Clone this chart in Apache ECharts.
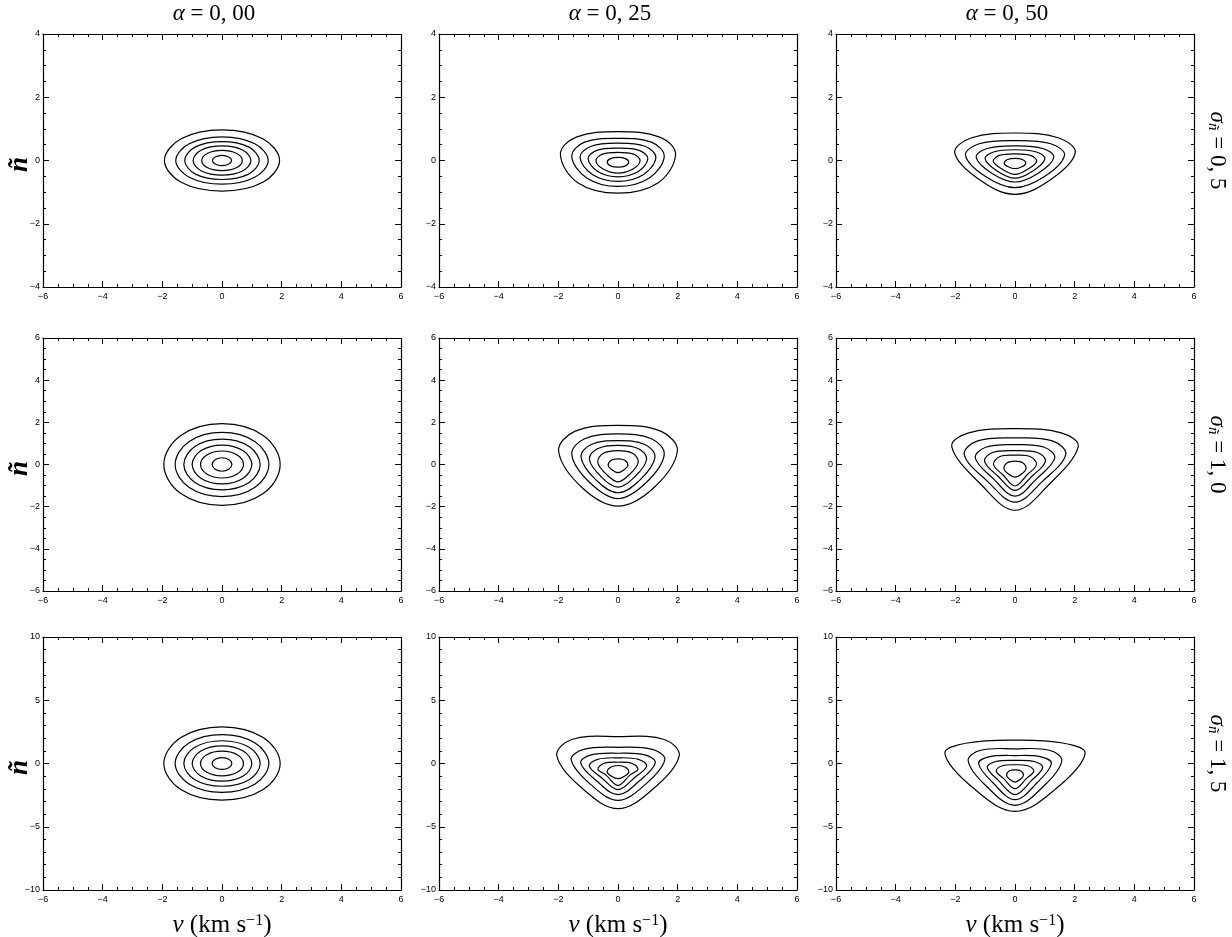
<!DOCTYPE html>
<html>
<head>
<meta charset="utf-8">
<script src="https://cdn.jsdelivr.net/npm/echarts@6/dist/echarts.min.js"></script>
<style>
html,body{margin:0;padding:0;background:#fff;}
#chart{width:1232px;height:937px;}
</style>
</head>
<body>
<div id="chart"></div>
<script>
// ---------- data ----------
const columnAlphas = ['0, 00', '0, 25', '0, 50'];
const rowSigmas = ['0, 5', '1, 0', '1, 5'];
const xRange = [-6, 6];
const xTickStep = 2;
const yRanges = [[-4, 4], [-6, 6], [-10, 10]];
const yTickSteps = [2, 2, 5];
const yMinorSplits = [4, 4, 5];

// contours: each contour is a closed list of [v, n] points
// row 1 (sigma_n = 0.5)
const contoursS05A000 = [
  [[1.93,0],[1.37,0.69],[0,0.97],[-1.37,0.69],[-1.93,0],[-1.37,-0.69],[0,-0.97],[1.37,-0.69]],
  [[1.55,0],[1.10,0.53],[0,0.75],[-1.10,0.53],[-1.55,0],[-1.10,-0.53],[0,-0.75],[1.10,-0.53]],
  [[1.25,0],[0.89,0.43],[0,0.60],[-0.89,0.43],[-1.25,0],[-0.89,-0.43],[0,-0.60],[0.89,-0.43]],
  [[0.97,0],[0.69,0.33],[0,0.46],[-0.69,0.33],[-0.97,0],[-0.69,-0.33],[0,-0.46],[0.69,-0.33]],
  [[0.68,0],[0.48,0.23],[0,0.32],[-0.48,0.23],[-0.68,0],[-0.48,-0.23],[0,-0.32],[0.48,-0.23]],
  [[0.32,0],[0.23,0.11],[0,0.16],[-0.23,0.11],[-0.32,0],[-0.23,-0.11],[0,-0.16],[0.23,-0.11]]
];
const contoursS05A025 = [
  [[1.93,0.20],[1.40,0.74],[0,0.91],[-1.40,0.74],[-1.93,0.20],[-1.35,-0.70],[0,-1.03],[1.35,-0.70]],
  [[1.55,0.13],[1.12,0.58],[0,0.70],[-1.12,0.58],[-1.55,0.13],[-1.05,-0.55],[0,-0.82],[1.05,-0.55]],
  [[1.27,0.10],[0.90,0.45],[0,0.55],[-0.90,0.45],[-1.27,0.10],[-0.86,-0.44],[0,-0.66],[0.86,-0.44]],
  [[1.00,0.06],[0.71,0.32],[0,0.39],[-0.71,0.32],[-1.00,0.06],[-0.68,-0.35],[0,-0.52],[0.68,-0.35]],
  [[0.74,0.00],[0.52,0.20],[0,0.26],[-0.52,0.20],[-0.74,0.00],[-0.50,-0.27],[0,-0.40],[0.50,-0.27]],
  [[0.36,-0.05],[0.25,0.06],[0,0.10],[-0.25,0.06],[-0.36,-0.05],[-0.25,-0.17],[0,-0.21],[0.25,-0.17]]
];
const contoursS05A050 = [
  [[2.02,0.25],[1.45,0.72],[0,0.87],[-1.45,0.72],[-2.02,0.25],[-1.20,-0.60],[0,-1.07],[1.20,-0.60]],
  [[1.66,0.17],[1.20,0.53],[0,0.63],[-1.20,0.53],[-1.66,0.17],[-1.00,-0.50],[0,-0.86],[1.00,-0.50]],
  [[1.30,0.10],[0.93,0.38],[0,0.46],[-0.93,0.38],[-1.30,0.10],[-0.78,-0.40],[0,-0.68],[0.78,-0.40]],
  [[1.00,0.05],[0.72,0.27],[0,0.34],[-0.72,0.27],[-1.00,0.05],[-0.60,-0.33],[0,-0.56],[0.60,-0.33]],
  [[0.73,-0.02],[0.52,0.16],[0,0.21],[-0.52,0.16],[-0.73,-0.02],[-0.44,-0.27],[0,-0.44],[0.44,-0.27]],
  [[0.36,-0.09],[0.25,0.03],[0,0.07],[-0.25,0.03],[-0.36,-0.09],[-0.23,-0.20],[0,-0.26],[0.23,-0.20]]
];
// row 2 (sigma_n = 1.0)
const contoursS10A000 = [
  [[1.95,0],[1.38,1.38],[0,1.94],[-1.38,1.38],[-1.95,0],[-1.38,-1.38],[0,-1.94],[1.38,-1.38]],
  [[1.57,0],[1.11,1.08],[0,1.52],[-1.11,1.08],[-1.57,0],[-1.11,-1.08],[0,-1.52],[1.11,-1.08]],
  [[1.28,0],[0.91,0.85],[0,1.20],[-0.91,0.85],[-1.28,0],[-0.91,-0.85],[0,-1.20],[0.91,-0.85]],
  [[1.00,0],[0.71,0.65],[0,0.92],[-0.71,0.65],[-1.00,0],[-0.71,-0.65],[0,-0.92],[0.71,-0.65]],
  [[0.72,0],[0.51,0.45],[0,0.64],[-0.51,0.45],[-0.72,0],[-0.51,-0.45],[0,-0.64],[0.51,-0.45]],
  [[0.33,0],[0.23,0.23],[0,0.32],[-0.23,0.23],[-0.33,0],[-0.23,-0.23],[0,-0.32],[0.23,-0.23]]
];
const contoursS10A025 = [
  [[1.99,0.63],[1.45,1.57],[0,1.86],[-1.45,1.57],[-1.99,0.63],[-1.20,-1.10],[0,-1.97],[1.20,-1.10]],
  [[1.55,0.47],[1.12,1.22],[0,1.45],[-1.12,1.22],[-1.55,0.47],[-0.93,-0.88],[0,-1.62],[0.93,-0.88]],
  [[1.24,0.35],[0.90,0.95],[0,1.13],[-0.90,0.95],[-1.24,0.35],[-0.74,-0.73],[0,-1.34],[0.74,-0.73]],
  [[0.96,0.25],[0.69,0.75],[0,0.91],[-0.69,0.75],[-0.96,0.25],[-0.57,-0.57],[0,-1.07],[0.57,-0.57]],
  [[0.68,0.12],[0.49,0.53],[0,0.66],[-0.49,0.53],[-0.68,0.12],[-0.41,-0.44],[0,-0.82],[0.41,-0.44]],
  [[0.33,-0.05],[0.23,0.20],[0,0.27],[-0.23,0.20],[-0.33,-0.05],[-0.20,-0.25],[0,-0.39],[0.20,-0.25]]
];
const contoursS10A050 = [
  [[2.12,0.85],[1.55,1.50],[0,1.70],[-1.55,1.50],[-2.12,0.85],[-1.14,-0.95],[0,-2.17],[1.14,-0.95]],
  [[1.70,0.47],[1.25,1.12],[0,1.26],[-1.25,1.12],[-1.70,0.47],[-0.92,-0.80],[0,-1.78],[0.92,-0.80]],
  [[1.33,0.30],[0.98,0.82],[0,0.94],[-0.98,0.82],[-1.33,0.30],[-0.72,-0.68],[0,-1.50],[0.72,-0.68]],
  [[1.02,0.15],[0.75,0.57],[0,0.66],[-0.75,0.57],[-1.02,0.15],[-0.55,-0.58],[0,-1.23],[0.55,-0.58]],
  [[0.72,0.00],[0.52,0.37],[0,0.44],[-0.52,0.37],[-0.72,0.00],[-0.40,-0.50],[0,-1.02],[0.40,-0.50]],
  [[0.37,-0.20],[0.26,0.08],[0,0.16],[-0.26,0.08],[-0.37,-0.20],[-0.22,-0.45],[0,-0.60],[0.22,-0.45]]
];
// row 3 (sigma_n = 1.5)
const contoursS15A000 = [
  [[1.95,0],[1.38,2.06],[0,2.90],[-1.38,2.06],[-1.95,0],[-1.38,-2.06],[0,-2.90],[1.38,-2.06]],
  [[1.57,0],[1.11,1.62],[0,2.28],[-1.11,1.62],[-1.57,0],[-1.11,-1.62],[0,-2.28],[1.11,-1.62]],
  [[1.28,0],[0.91,1.28],[0,1.80],[-0.91,1.28],[-1.28,0],[-0.91,-1.28],[0,-1.80],[0.91,-1.28]],
  [[1.00,0],[0.71,0.99],[0,1.40],[-0.71,0.99],[-1.00,0],[-0.71,-0.99],[0,-1.40],[0.71,-0.99]],
  [[0.72,0],[0.51,0.70],[0,0.98],[-0.51,0.70],[-0.72,0],[-0.51,-0.70],[0,-0.98],[0.51,-0.70]],
  [[0.33,0],[0.23,0.33],[0,0.46],[-0.23,0.33],[-0.33,0],[-0.23,-0.33],[0,-0.46],[0.23,-0.33]]
];
const contoursS15A025 = [
  [[2.05,0.60],[1.55,1.90],[0,2.13],[-1.55,1.90],[-2.05,0.60],[-1.18,-2.00],[0,-3.57],[1.18,-2.00]],
  [[1.57,0.30],[1.15,1.12],[0,1.28],[-1.15,1.12],[-1.57,0.30],[-0.92,-1.65],[0,-2.91],[0.92,-1.65]],
  [[1.25,0.05],[0.90,0.68],[0,0.81],[-0.90,0.68],[-1.25,0.05],[-0.73,-1.35],[0,-2.46],[0.73,-1.35]],
  [[0.96,-0.20],[0.68,0.33],[0,0.45],[-0.68,0.33],[-0.96,-0.20],[-0.56,-1.10],[0,-2.07],[0.56,-1.10]],
  [[0.67,-0.45],[0.48,0.00],[0,0.10],[-0.48,0.00],[-0.67,-0.45],[-0.40,-0.92],[0,-1.73],[0.40,-0.92]],
  [[0.36,-0.68],[0.25,-0.30],[0,-0.16],[-0.25,-0.30],[-0.36,-0.68],[-0.22,-1.00],[0,-1.20],[0.22,-1.00]]
];
const contoursS15A050 = [
  [[2.35,0.80],[1.60,1.62],[0,1.85],[-1.60,1.62],[-2.35,0.80],[-1.37,-2.00],[0,-3.78],[1.37,-2.00]],
  [[1.57,0.24],[1.15,1.05],[0,1.16],[-1.15,1.05],[-1.57,0.24],[-1.00,-1.70],[0,-3.31],[1.00,-1.70]],
  [[1.22,0.00],[0.88,0.52],[0,0.63],[-0.88,0.52],[-1.22,0.00],[-0.75,-1.50],[0,-2.86],[0.75,-1.50]],
  [[0.93,-0.30],[0.67,0.14],[0,0.24],[-0.67,0.14],[-0.93,-0.30],[-0.55,-1.35],[0,-2.46],[0.55,-1.35]],
  [[0.63,-0.60],[0.45,-0.20],[0,-0.10],[-0.45,-0.20],[-0.63,-0.60],[-0.38,-1.20],[0,-1.99],[0.38,-1.20]],
  [[0.28,-0.95],[0.20,-0.60],[0,-0.50],[-0.20,-0.60],[-0.28,-0.95],[-0.18,-1.25],[0,-1.47],[0.18,-1.25]]
];
const panelContours = [
  [contoursS05A000, contoursS05A025, contoursS05A050],
  [contoursS10A000, contoursS10A025, contoursS10A050],
  [contoursS15A000, contoursS15A025, contoursS15A050]
];

// ---------- layout ----------
const gridLefts = [43, 439, 836];
const gridWidth = 358;
const gridTops = [34, 338, 637];
const gridHeight = 253;

const labelFont = 'Liberation Sans, Arial, sans-serif';
const serifFont = 'Liberation Serif, Times New Roman, serif';
const fmt = v => (v < 0 ? '\u2212' + Math.abs(v) : String(v));

const grids = [], xAxes = [], yAxes = [], series = [], graphics = [];

for (let r = 0; r < 3; r++) {
  for (let c = 0; c < 3; c++) {
    const p = r * 3 + c;
    grids.push({ left: gridLefts[c], top: gridTops[r], width: gridWidth, height: gridHeight, containLabel: false, outerBoundsMode: 'none' });
    const tickCommon = { show: true, inside: true, length: 6, lineStyle: { color: '#000', width: 1 } };
    const lineCommon = { show: true, onZero: false, lineStyle: { color: '#000', width: 1.2 } };
    // bottom x
    xAxes.push({
      type: 'value', gridIndex: p, position: 'bottom', min: xRange[0], max: xRange[1], interval: xTickStep,
      axisLine: lineCommon, axisTick: tickCommon,
      minorTick: { show: true, splitNumber: 4, length: 3, lineStyle: { color: '#000', width: 1 } },
      splitLine: { show: false }, minorSplitLine: { show: false },
      axisLabel: { show: true, formatter: fmt, fontSize: 9, color: '#000', fontFamily: labelFont, margin: 5 },
      name: r === 2 ? '{i|v} (km s{sup|\u22121})' : '',
      nameLocation: 'middle', nameGap: 23, nameMoveOverlap: false,
      nameTextStyle: {
        fontSize: 25, color: '#000', fontFamily: serifFont,
        rich: {
          i: { fontSize: 25, fontStyle: 'italic', fontFamily: serifFont, color: '#000' },
          sup: { fontSize: 16, fontFamily: serifFont, color: '#000', verticalAlign: 'top', padding: [0, 0, 9, 0] }
        }
      }
    });
    // top x (mirror)
    xAxes.push({
      type: 'value', gridIndex: p, position: 'top', min: xRange[0], max: xRange[1], interval: xTickStep,
      axisLine: lineCommon, axisTick: tickCommon,
      minorTick: { show: true, splitNumber: 4, length: 3, lineStyle: { color: '#000', width: 1 } },
      splitLine: { show: false }, axisLabel: { show: false }
    });
    // left y
    yAxes.push({
      type: 'value', gridIndex: p, position: 'left', min: yRanges[r][0], max: yRanges[r][1], interval: yTickSteps[r],
      axisLine: lineCommon, axisTick: tickCommon,
      minorTick: { show: true, splitNumber: yMinorSplits[r], length: 3, lineStyle: { color: '#000', width: 1 } },
      splitLine: { show: false }, minorSplitLine: { show: false },
      axisLabel: { show: true, formatter: fmt, fontSize: 9, color: '#000', fontFamily: labelFont, margin: 3 }
    });
    // right y (mirror)
    yAxes.push({
      type: 'value', gridIndex: p, position: 'right', min: yRanges[r][0], max: yRanges[r][1], interval: yTickSteps[r],
      axisLine: lineCommon, axisTick: tickCommon,
      minorTick: { show: true, splitNumber: yMinorSplits[r], length: 3, lineStyle: { color: '#000', width: 1 } },
      splitLine: { show: false }, axisLabel: { show: false }
    });

    panelContours[r][c].forEach(pts => {
      series.push({
        type: 'custom',
        coordinateSystem: 'cartesian2d',
        xAxisIndex: p * 2,
        yAxisIndex: p * 2,
        data: pts,
        silent: true,
        animation: false,
        renderItem: function (params, api) {
          if (params.dataIndex !== 0) return null;
          const pix = pts.map(q => api.coord(q));
          return {
            type: 'polygon',
            shape: { points: pix, smooth: 0.37 },
            style: { fill: 'none', stroke: '#000', lineWidth: 1.2 }
          };
        }
      });
    });
  }
}

// column titles
for (let c = 0; c < 3; c++) {
  graphics.push({
    type: 'text',
    x: gridLefts[c] + gridWidth / 2 - 8, y: 14,
    style: {
      text: '{i|\u03b1} = ' + columnAlphas[c],
      align: 'center', verticalAlign: 'middle',
      fontSize: 23, fontFamily: serifFont, fill: '#000',
      rich: { i: { fontSize: 23, fontStyle: 'italic', fontFamily: serifFont, fill: '#000' } }
    }
  });
}
// y-axis names (rotated) for the left column
for (let r = 0; r < 3; r++) {
  graphics.push({
    type: 'text',
    x: 20, y: gridTops[r] + gridHeight / 2 + 4,
    rotation: Math.PI / 2,
    style: {
      text: '\u00f1',
      align: 'center', verticalAlign: 'middle',
      fontSize: 27, fontStyle: 'italic', fontWeight: 'bold', fontFamily: serifFont, fill: '#000'
    }
  });
}
// row labels on the right (rotated)
for (let r = 0; r < 3; r++) {
  graphics.push({
    type: 'text',
    x: 1217, y: gridTops[r] + gridHeight / 2 - 10,
    rotation: -Math.PI / 2,
    style: {
      text: '{i|\u03c3}{sub|\u00f1} = ' + rowSigmas[r],
      align: 'center', verticalAlign: 'middle',
      fontSize: 23, fontFamily: serifFont, fill: '#000',
      rich: {
        i: { fontSize: 23, fontStyle: 'italic', fontFamily: serifFont, fill: '#000' },
        sub: { fontSize: 15, fontStyle: 'italic', fontFamily: serifFont, fill: '#000', verticalAlign: 'bottom', padding: [9, 0, 0, 0] }
      }
    }
  });
}

const chart = echarts.init(document.getElementById('chart'), null, { renderer: 'canvas' });
chart.setOption({
  backgroundColor: '#fff',
  animation: false,
  grid: grids,
  xAxis: xAxes,
  yAxis: yAxes,
  series: series,
  graphic: graphics
});
</script>
</body>
</html>
